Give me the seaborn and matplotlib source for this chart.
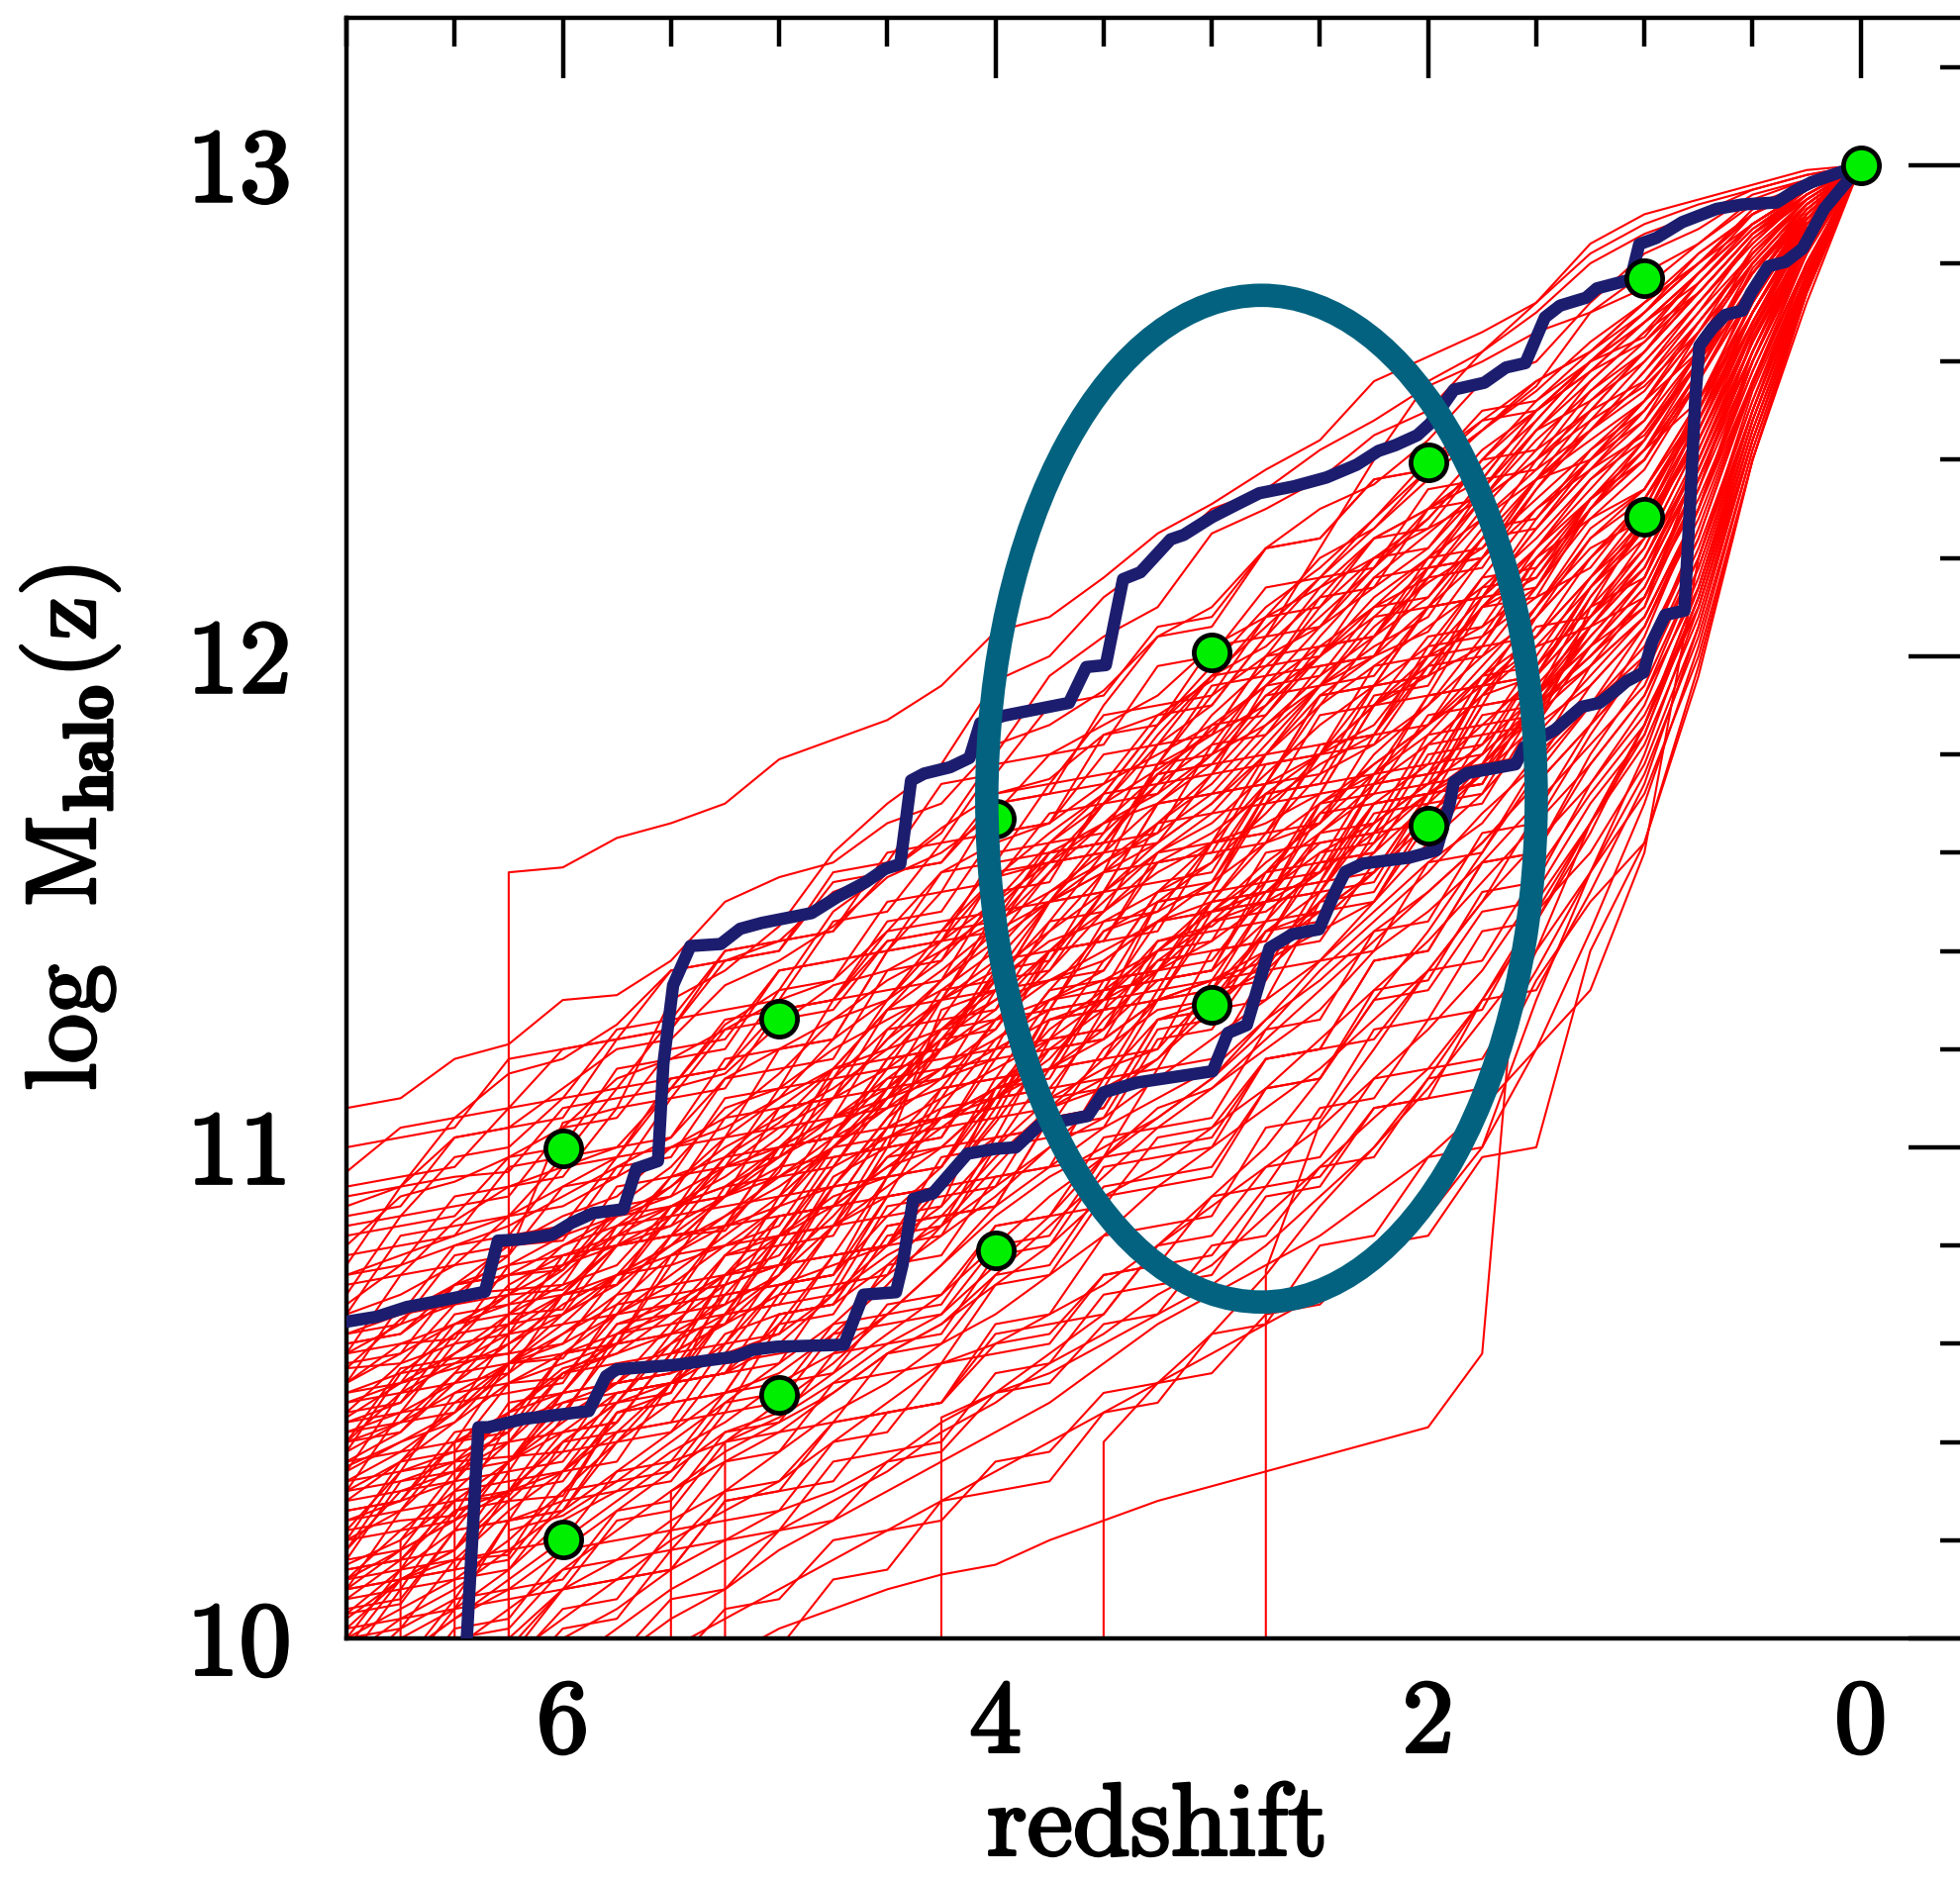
import numpy as np
import pandas as pd
import matplotlib
matplotlib.use("Agg")
import matplotlib.pyplot as plt
import matplotlib.patheffects as pe
import seaborn as sns
from matplotlib.patches import Ellipse
from matplotlib.ticker import MultipleLocator

nan = np.nan

# ---------------- data ----------------
redshift_grid = [7.0, 6.75, 6.5, 6.25, 6.0, 5.75, 5.5, 5.25, 5.0, 4.75, 4.5, 4.25, 4.0, 3.75,
                 3.5, 3.25, 3.0, 2.75, 2.5, 2.25, 2.0, 1.75, 1.5, 1.25, 1.0, 0.75, 0.5, 0.25, 0.0]

track_01 = [nan, nan, nan, 11.56, 11.57, 11.63, 11.66, 11.70, 11.79, 11.83, 11.87, 11.94, 12.05, 12.08, 12.16, 12.25, 12.31, 12.38, 12.44, 12.56, 12.61, 12.66, 12.72, 12.84, 12.90, 12.93, 12.96, 12.99, 13.00]
track_02 = [11.08, 11.10, 11.18, 11.21, 11.30, 11.31, 11.38, 11.50, 11.55, 11.58, 11.66, 11.70, 11.82, 11.86, 11.93, 12.04, 12.10, 12.22, 12.30, 12.35, 12.44, 12.56, 12.60, 12.72, 12.82, 12.87, 12.94, 12.97, 13.00]
track_03 = [10.95, 11.04, 11.06, 11.15, 11.18, 11.25, 11.36, 11.38, 11.42, 11.52, 11.56, 11.65, 11.72, 11.75, 11.84, 11.88, 11.95, 12.08, 12.20, 12.26, 12.38, 12.46, 12.55, 12.70, 12.78, 12.84, 12.92, 12.96, 13.00]
track_04 = [10.88, 10.92, 11.02, 11.04, 11.12, 11.20, 11.22, 11.33, 11.38, 11.45, 11.55, 11.60, 11.68, 11.80, 11.86, 11.92, 12.02, 12.08, 12.14, 12.24, 12.30, 12.42, 12.50, 12.60, 12.70, 12.82, 12.90, 12.95, 13.00]
track_05 = [10.80, 10.90, 10.93, 10.98, 11.04, 11.14, 11.18, 11.24, 11.30, 11.34, 11.44, 11.56, 11.62, 11.66, 11.74, 11.80, 11.86, 11.94, 12.02, 12.10, 12.16, 12.30, 12.42, 12.50, 12.62, 12.76, 12.88, 12.95, 13.00]
track_06 = [10.72, 10.74, 10.85, 10.92, 10.96, 11.00, 11.12, 11.15, 11.25, 11.33, 11.36, 11.42, 11.55, 11.58, 11.70, 11.77, 11.84, 11.90, 12.04, 12.16, 12.25, 12.34, 12.46, 12.56, 12.66, 12.74, 12.86, 12.94, 13.00]
track_07 = [10.66, 10.70, 10.76, 10.86, 10.92, 10.98, 11.12, 11.25, 11.32, 11.48, 11.56, 11.64, 11.80, 11.96, 12.04, 12.10, 12.25, 12.30, 12.36, 12.45, 12.50, 12.62, 12.70, 12.80, 12.86, 12.90, 12.95, 12.98, 13.00]
track_08 = [10.60, 10.62, 10.70, 10.78, 11.05, 11.08, 11.30, 11.36, 11.45, 11.60, 11.70, 11.78, 11.95, 12.00, 12.12, 12.20, 12.30, 12.34, 12.42, 12.48, 12.55, 12.60, 12.66, 12.70, 12.75, 12.84, 12.93, 12.97, 13.00]
track_09 = [10.68, 10.76, 10.80, 10.84, 10.90, 10.96, 11.02, 11.14, 11.20, 11.26, 11.34, 11.40, 11.48, 11.60, 11.66, 11.70, 11.80, 11.92, 12.00, 12.12, 12.20, 12.32, 12.40, 12.54, 12.62, 12.74, 12.86, 12.93, 13.00]
track_10 = [10.55, 10.65, 10.72, 10.80, 10.86, 10.90, 11.00, 11.06, 11.15, 11.26, 11.30, 11.38, 11.50, 11.62, 11.70, 11.82, 11.90, 12.04, 12.16, 12.28, 12.40, 12.48, 12.56, 12.62, 12.72, 12.80, 12.91, 12.96, 13.00]
track_11 = [10.50, 10.54, 10.62, 10.70, 10.80, 10.86, 10.92, 11.02, 11.10, 11.22, 11.30, 11.44, 11.55, 11.64, 11.72, 11.86, 11.96, 12.02, 12.12, 12.24, 12.30, 12.38, 12.48, 12.60, 12.65, 12.78, 12.88, 12.95, 13.00]
track_12 = [10.46, 10.56, 10.60, 10.72, 10.78, 10.82, 10.94, 10.98, 11.05, 11.16, 11.28, 11.36, 11.45, 11.56, 11.66, 11.76, 11.85, 11.94, 12.06, 12.14, 12.22, 12.34, 12.46, 12.52, 12.60, 12.72, 12.85, 12.93, 13.00]
track_13 = [10.52, 10.58, 10.64, 10.68, 10.75, 10.88, 10.96, 11.08, 11.12, 11.20, 11.26, 11.32, 11.40, 11.52, 11.60, 11.70, 11.78, 11.90, 12.00, 12.08, 12.18, 12.34, 12.48, 12.60, 12.70, 12.80, 12.90, 12.96, 13.00]
track_14 = [10.44, 10.48, 10.58, 10.66, 10.72, 10.76, 10.88, 10.92, 11.00, 11.10, 11.22, 11.30, 11.38, 11.50, 11.64, 11.74, 11.82, 11.96, 12.10, 12.20, 12.26, 12.32, 12.40, 12.48, 12.55, 12.66, 12.80, 12.92, 13.00]
track_15 = [10.40, 10.50, 10.56, 10.62, 10.70, 10.80, 10.86, 10.98, 11.08, 11.16, 11.28, 11.40, 11.46, 11.52, 11.58, 11.66, 11.74, 11.86, 11.96, 12.04, 12.12, 12.24, 12.36, 12.46, 12.58, 12.72, 12.84, 12.94, 13.00]
track_16 = [10.48, 10.52, 10.55, 10.60, 10.66, 10.72, 10.80, 10.90, 10.98, 11.06, 11.14, 11.22, 11.35, 11.50, 11.62, 11.74, 11.88, 11.98, 12.08, 12.18, 12.28, 12.40, 12.52, 12.60, 12.68, 12.76, 12.87, 12.94, 13.00]
track_17 = [10.38, 10.44, 10.54, 10.66, 10.76, 10.82, 10.88, 10.94, 11.02, 11.14, 11.24, 11.34, 11.42, 11.50, 11.56, 11.62, 11.70, 11.82, 11.94, 12.06, 12.15, 12.22, 12.32, 12.42, 12.50, 12.64, 12.82, 12.92, 13.00]
track_18 = [10.42, 10.46, 10.52, 10.60, 10.68, 10.74, 10.78, 10.84, 10.95, 11.14, 11.30, 11.42, 11.50, 11.58, 11.66, 11.72, 11.80, 11.86, 11.94, 12.00, 12.05, 12.20, 12.36, 12.50, 12.62, 12.74, 12.86, 12.94, 13.00]
track_19 = [10.35, 10.40, 10.46, 10.56, 10.64, 10.74, 10.86, 10.96, 11.04, 11.10, 11.16, 11.24, 11.32, 11.44, 11.56, 11.66, 11.76, 11.88, 12.00, 12.10, 12.20, 12.28, 12.36, 12.44, 12.52, 12.62, 12.78, 12.90, 13.00]
track_20 = [10.45, 10.52, 10.58, 10.64, 10.70, 10.74, 10.80, 10.86, 10.92, 11.00, 11.10, 11.20, 11.28, 11.40, 11.50, 11.60, 11.68, 11.80, 11.92, 12.00, 12.10, 12.20, 12.30, 12.38, 12.45, 12.60, 12.80, 12.92, 13.00]
track_21 = [10.36, 10.42, 10.52, 10.64, 10.74, 10.84, 10.92, 11.00, 11.06, 11.12, 11.20, 11.30, 11.36, 11.44, 11.52, 11.60, 11.66, 11.76, 11.86, 11.94, 12.02, 12.16, 12.30, 12.40, 12.48, 12.66, 12.83, 12.93, 13.00]
track_22 = [10.32, 10.38, 10.46, 10.54, 10.62, 10.70, 10.82, 10.90, 10.96, 11.10, 11.22, 11.34, 11.44, 11.50, 11.58, 11.64, 11.72, 11.84, 11.94, 12.02, 12.08, 12.24, 12.40, 12.50, 12.56, 12.70, 12.85, 12.94, 13.00]
track_23 = [10.40, 10.44, 10.50, 10.56, 10.60, 10.66, 10.74, 10.82, 10.90, 11.00, 11.12, 11.22, 11.30, 11.40, 11.48, 11.56, 11.62, 11.74, 11.90, 12.04, 12.16, 12.28, 12.38, 12.46, 12.54, 12.68, 12.81, 12.93, 13.00]
track_24 = [10.30, 10.36, 10.48, 10.56, 10.66, 10.74, 10.80, 10.90, 11.00, 11.06, 11.12, 11.20, 11.26, 11.36, 11.48, 11.58, 11.64, 11.72, 11.80, 11.90, 12.00, 12.12, 12.22, 12.32, 12.42, 12.56, 12.76, 12.90, 13.00]
track_25 = [10.34, 10.40, 10.44, 10.52, 10.58, 10.66, 10.72, 10.80, 10.88, 11.00, 11.10, 11.24, 11.34, 11.42, 11.46, 11.52, 11.58, 11.68, 11.80, 11.90, 11.98, 12.10, 12.20, 12.32, 12.40, 12.58, 12.79, 12.91, 13.00]
track_26 = [10.28, 10.36, 10.44, 10.56, 10.62, 10.68, 10.78, 10.86, 10.94, 11.02, 11.08, 11.16, 11.24, 11.38, 11.52, 11.62, 11.70, 11.80, 11.90, 11.98, 12.06, 12.14, 12.24, 12.36, 12.46, 12.60, 12.74, 12.89, 13.00]
track_27 = [10.26, 10.28, 10.40, 10.44, 10.58, 10.62, 10.70, 10.84, 10.88, 10.92, 11.06, 11.14, 11.18, 11.32, 11.44, 11.48, 11.54, 11.70, 11.78, 11.84, 11.98, 12.10, 12.16, 12.30, 12.42, 12.52, 12.70, 12.88, 13.00]
track_28 = [10.22, 10.34, 10.38, 10.52, 10.56, 10.60, 10.76, 10.80, 10.84, 11.00, 11.08, 11.12, 11.26, 11.30, 11.36, 11.52, 11.62, 11.66, 11.72, 11.90, 11.96, 12.02, 12.20, 12.28, 12.34, 12.50, 12.76, 12.90, 13.00]
track_29 = [10.30, 10.32, 10.36, 10.46, 10.50, 10.64, 10.68, 10.70, 10.82, 10.90, 10.94, 11.10, 11.16, 11.22, 11.38, 11.46, 11.50, 11.64, 11.76, 11.82, 11.90, 12.04, 12.12, 12.18, 12.32, 12.48, 12.68, 12.86, 13.00]
track_30 = [10.20, 10.26, 10.36, 10.42, 10.54, 10.58, 10.66, 10.78, 10.82, 10.96, 11.02, 11.08, 11.22, 11.28, 11.44, 11.50, 11.58, 11.74, 11.80, 11.86, 12.00, 12.06, 12.14, 12.32, 12.40, 12.56, 12.74, 12.89, 13.00]
track_31 = [10.18, 10.30, 10.34, 10.40, 10.50, 10.62, 10.66, 10.74, 10.78, 10.92, 11.04, 11.10, 11.26, 11.34, 11.38, 11.46, 11.48, 11.56, 11.68, 11.78, 11.86, 11.98, 12.10, 12.22, 12.28, 12.44, 12.68, 12.87, 13.00]
track_32 = [10.24, 10.28, 10.32, 10.44, 10.48, 10.52, 10.64, 10.72, 10.76, 10.86, 10.98, 11.06, 11.12, 11.24, 11.32, 11.40, 11.50, 11.62, 11.66, 11.80, 11.90, 12.00, 12.08, 12.24, 12.32, 12.48, 12.73, 12.88, 13.00]
track_33 = [10.15, 10.20, 10.34, 10.46, 10.55, 10.58, 10.62, 10.68, 10.74, 10.88, 10.96, 11.00, 11.10, 11.18, 11.30, 11.42, 11.45, 11.54, 11.70, 11.76, 11.84, 11.96, 12.04, 12.16, 12.26, 12.44, 12.66, 12.85, 13.00]
track_34 = [10.12, 10.22, 10.24, 10.36, 10.46, 10.48, 10.60, 10.70, 10.72, 10.74, 10.94, 11.06, 11.10, 11.12, 11.26, 11.36, 11.38, 11.52, 11.62, 11.64, 11.82, 11.92, 11.96, 12.14, 12.24, 12.46, 12.70, 12.87, 13.00]
track_35 = [10.20, 10.22, 10.30, 10.40, 10.42, 10.44, 10.58, 10.64, 10.70, 10.84, 10.86, 10.96, 11.10, 11.16, 11.18, 11.36, 11.46, 11.50, 11.64, 11.72, 11.74, 11.94, 12.02, 12.06, 12.20, 12.40, 12.64, 12.84, 13.00]
track_36 = [10.10, 10.18, 10.32, 10.34, 10.50, 10.52, 10.54, 10.66, 10.68, 10.84, 10.90, 10.92, 11.05, 11.20, 11.22, 11.30, 11.46, 11.48, 11.56, 11.70, 11.78, 11.80, 11.98, 12.10, 12.16, 12.42, 12.67, 12.86, 13.00]
track_37 = [10.16, 10.18, 10.24, 10.36, 10.42, 10.50, 10.52, 10.60, 10.72, 10.74, 10.86, 10.88, 11.12, 11.16, 11.24, 11.34, 11.36, 11.46, 11.58, 11.60, 11.76, 11.86, 11.96, 12.08, 12.18, 12.38, 12.62, 12.84, 13.00]
track_38 = [10.08, 10.16, 10.28, 10.30, 10.45, 10.52, 10.54, 10.58, 10.72, 10.76, 10.80, 10.94, 11.02, 11.04, 11.20, 11.28, 11.30, 11.44, 11.52, 11.66, 11.74, 11.76, 11.94, 12.06, 12.12, 12.36, 12.60, 12.82, 13.00]
track_39 = [10.14, 10.16, 10.26, 10.30, 10.40, 10.48, 10.52, 10.54, 10.64, 10.78, 10.80, 10.92, 11.06, 11.08, 11.18, 11.30, 11.34, 11.38, 11.50, 11.62, 11.72, 11.74, 11.92, 12.02, 12.10, 12.34, 12.65, 12.85, 13.00]
track_40 = [10.05, 10.14, 10.22, 10.36, 10.48, 10.50, 10.52, 10.58, 10.62, 10.70, 10.80, 10.88, 11.00, 11.10, 11.16, 11.20, 11.32, 11.44, 11.48, 11.56, 11.72, 11.78, 11.90, 12.00, 12.12, 12.32, 12.58, 12.82, 13.00]
track_41 = [10.10, 10.12, 10.18, 10.28, 10.38, 10.40, 10.48, 10.62, 10.66, 10.68, 10.76, 10.86, 10.98, 11.08, 11.14, 11.26, 11.30, 11.36, 11.46, 11.56, 11.68, 11.76, 11.90, 11.98, 12.08, 12.30, 12.62, 12.84, 13.00]
track_42 = [10.02, 10.12, 10.18, 10.30, 10.34, 10.42, 10.52, 10.54, 10.60, 10.70, 10.78, 10.84, 10.96, 11.08, 11.12, 11.18, 11.28, 11.38, 11.44, 11.50, 11.66, 11.76, 11.86, 11.94, 12.06, 12.28, 12.56, 12.80, 13.00]
track_43 = [10.00, 10.06, 10.12, 10.20, 10.30, 10.40, 10.52, 10.66, 10.80, 10.96, 11.10, 11.26, 11.42, 11.56, 11.70, 11.84, 11.96, 12.06, 12.16, 12.26, 12.36, 12.46, 12.54, 12.64, 12.72, 12.80, 12.88, 12.95, 13.00]
track_44 = [9.92, 10.02, 10.08, 10.24, 10.28, 10.46, 10.50, 10.72, 10.76, 10.94, 11.00, 11.28, 11.32, 11.50, 11.56, 11.78, 11.84, 12.00, 12.06, 12.18, 12.30, 12.36, 12.50, 12.58, 12.68, 12.78, 12.90, 12.96, 13.00]
track_45 = [10.62, 10.66, 10.72, 10.76, 10.82, 10.86, 10.90, 10.96, 11.00, 11.06, 11.10, 11.14, 11.20, 11.26, 11.30, 11.36, 11.42, 11.50, 11.56, 11.64, 11.72, 11.80, 11.90, 12.00, 12.10, 12.40, 12.66, 12.88, 13.00]
track_46 = [10.58, 10.64, 10.68, 10.74, 10.80, 10.84, 10.88, 10.92, 10.98, 11.04, 11.10, 11.16, 11.22, 11.30, 11.34, 11.40, 11.48, 11.52, 11.60, 11.66, 11.74, 11.82, 11.92, 12.02, 12.14, 12.36, 12.62, 12.86, 13.00]
track_47 = [10.52, 10.60, 10.64, 10.70, 10.76, 10.80, 10.84, 10.90, 10.94, 11.00, 11.02, 11.06, 11.12, 11.16, 11.22, 11.30, 11.34, 11.40, 11.48, 11.56, 11.66, 11.78, 11.88, 11.98, 12.08, 12.30, 12.60, 12.84, 13.00]
track_48 = [10.12, 10.18, 10.24, 10.30, 10.40, 10.48, 10.62, 10.78, 10.88, 11.02, 11.18, 11.30, 11.46, 11.62, 11.72, 11.86, 11.98, 12.10, 12.18, 12.28, 12.38, 12.46, 12.56, 12.62, 12.70, 12.80, 12.90, 12.96, 13.00]
track_49 = [10.04, 10.12, 10.16, 10.26, 10.34, 10.44, 10.58, 10.64, 10.74, 10.92, 11.06, 11.20, 11.34, 11.46, 11.60, 11.78, 11.92, 12.00, 12.14, 12.20, 12.28, 12.40, 12.50, 12.58, 12.64, 12.74, 12.86, 12.95, 13.00]
track_50 = [10.74, 10.78, 10.82, 10.86, 10.88, 10.94, 11.00, 11.04, 11.10, 11.16, 11.20, 11.24, 11.30, 11.34, 11.40, 11.46, 11.54, 11.62, 11.70, 11.78, 11.86, 11.94, 12.04, 12.16, 12.30, 12.52, 12.74, 12.90, 13.00]
track_51 = [9.96, 10.04, 10.10, 10.18, 10.26, 10.34, 10.42, 10.50, 10.54, 10.62, 10.72, 10.84, 10.92, 11.00, 11.06, 11.14, 11.22, 11.30, 11.38, 11.48, 11.58, 11.66, 11.80, 11.90, 12.02, 12.24, 12.55, 12.80, 13.00]
track_52 = [9.90, 10.00, 10.06, 10.14, 10.24, 10.30, 10.38, 10.44, 10.52, 10.58, 10.66, 10.76, 10.88, 10.96, 11.04, 11.10, 11.16, 11.26, 11.34, 11.44, 11.52, 11.62, 11.74, 11.86, 11.98, 12.20, 12.52, 12.78, 13.00]
track_53 = [9.84, 9.96, 10.04, 10.10, 10.18, 10.26, 10.34, 10.42, 10.46, 10.54, 10.62, 10.70, 10.80, 10.90, 10.98, 11.08, 11.12, 11.20, 11.28, 11.40, 11.48, 11.58, 11.70, 11.82, 11.94, 12.18, 12.50, 12.78, 13.00]
track_54 = [9.80, 9.90, 9.98, 10.06, 10.14, 10.22, 10.30, 10.38, 10.44, 10.50, 10.58, 10.64, 10.72, 10.80, 10.90, 10.96, 11.04, 11.12, 11.22, 11.32, 11.42, 11.54, 11.66, 11.78, 11.92, 12.14, 12.48, 12.76, 13.00]
track_55 = [9.75, 9.86, 9.92, 10.00, 10.10, 10.16, 10.24, 10.30, 10.38, 10.46, 10.52, 10.60, 10.66, 10.74, 10.82, 10.92, 11.00, 11.08, 11.16, 11.26, 11.36, 11.50, 11.62, 11.74, 11.88, 12.10, 12.46, 12.75, 13.00]
track_56 = [9.40, 9.48, 9.56, 9.64, 9.72, 9.80, 9.88, 9.96, 10.02, 10.06, 10.10, 10.13, 10.15, 10.20, 10.24, 10.28, 10.31, 10.34, 10.37, 10.40, 10.43, 10.58, 11.85, 12.10, 12.28, 12.50, 12.72, 12.90, 13.00]
track_57 = [nan] * 17 + [10.75, 11.05, 11.20, 11.36, 11.50, 11.68, 11.86, 12.04, 12.30, 12.60, 12.85, 13.00]
track_58 = [9.60, 9.70, 9.78, 9.86, 9.94, 10.02, 10.10, 10.16, 10.22, 10.28, 10.34, 10.42, 10.48, 10.56, 10.62, 10.70, 10.76, 10.86, 10.96, 11.06, 11.16, 11.30, 11.46, 11.64, 11.86, 12.10, 12.44, 12.74, 13.00]
track_59 = [9.70, 9.80, 9.88, 9.96, 10.04, 10.12, 10.20, 10.26, 10.32, 10.40, 10.48, 10.56, 10.60, 10.66, 10.72, 10.80, 10.88, 10.96, 11.04, 11.14, 11.24, 11.36, 11.52, 11.70, 11.84, 12.12, 12.46, 12.76, 13.00]
track_60 = [nan] * 6 + [10.30, 10.36, 10.42, 10.50, 10.58, 10.64, 10.74, 10.84, 10.94, 11.04, 11.12, 11.22, 11.32, 11.42, 11.52, 11.62, 11.74, 11.86, 11.98, 12.22, 12.52, 12.80, 13.00]
track_61 = [nan] * 11 + [10.45, 10.50, 10.58, 10.66, 10.80, 10.90, 11.00, 11.14, 11.30, 11.44, 11.60, 11.76, 11.90, 12.06, 12.30, 12.58, 12.82, 13.00]
track_62 = [nan, nan, 10.40, 10.46, 10.54, 10.60, 10.68, 10.74, 10.82, 10.88, 10.96, 11.04, 11.12, 11.22, 11.30, 11.40, 11.48, 11.58, 11.66, 11.76, 11.86, 11.96, 12.08, 12.20, 12.32, 12.50, 12.70, 12.88, 13.00]
track_63 = [nan, 10.20, 10.28, 10.36, 10.44, 10.52, 10.60, 10.66, 10.74, 10.84, 10.92, 11.00, 11.10, 11.20, 11.28, 11.38, 11.46, 11.56, 11.64, 11.74, 11.82, 11.92, 12.02, 12.14, 12.26, 12.46, 12.68, 12.86, 13.00]
track_64 = [nan, nan, nan, 10.22, 10.25, 10.32, 10.40, 10.48, 10.56, 10.64, 10.74, 10.82, 10.90, 11.00, 11.10, 11.18, 11.30, 11.40, 11.50, 11.60, 11.70, 11.80, 11.90, 12.00, 12.12, 12.34, 12.60, 12.84, 13.00]
track_65 = [9.65, 9.74, 9.84, 9.92, 10.00, 10.06, 10.14, 10.20, 10.26, 10.30, 10.36, 10.44, 10.50, 10.54, 10.60, 10.66, 10.72, 10.80, 10.90, 11.00, 11.12, 11.26, 11.40, 11.56, 11.72, 12.00, 12.40, 12.72, 13.00]
track_66 = [9.55, 9.64, 9.72, 9.80, 9.88, 9.96, 10.04, 10.10, 10.18, 10.24, 10.30, 10.36, 10.42, 10.48, 10.56, 10.64, 10.70, 10.76, 10.82, 10.90, 10.98, 11.08, 11.20, 11.32, 11.60, 12.20, 12.50, 12.80, 13.00]
track_67 = [9.88, 9.96, 10.04, 10.12, 10.20, 10.28, 10.36, 10.40, 10.48, 10.56, 10.66, 10.76, 10.86, 10.94, 11.00, 11.06, 11.14, 11.24, 11.36, 11.46, 11.56, 11.68, 11.78, 11.90, 12.00, 12.26, 12.56, 12.80, 13.00]
track_68 = [nan] * 7 + [10.40, 10.45, 10.52, 10.60, 10.66, 10.76, 10.86, 10.98, 11.06, 11.14, 11.26, 11.38, 11.50, 11.62, 11.72, 11.84, 11.96, 12.08, 12.30, 12.56, 12.82, 13.00]
track_69 = [nan] * 14 + [10.40, 10.52, 10.62, 10.74, 10.88, 11.00, 11.14, 11.30, 11.48, 11.66, 11.86, 12.14, 12.48, 12.78, 13.00]
track_70 = [9.50, 9.58, 9.66, 9.74, 9.82, 9.90, 9.98, 10.04, 10.10, 10.16, 10.22, 10.28, 10.34, 10.40, 10.46, 10.52, 10.58, 10.64, 10.70, 10.78, 10.86, 11.00, 11.30, 11.56, 11.80, 12.10, 12.46, 12.76, 13.00]
track_71 = [10.62, 10.64, 10.78, 10.80, 10.81, 10.96, 10.98, 11.14, 11.16, 11.18, 11.36, 11.38, 11.56, 11.58, 11.60, 11.78, 11.80, 11.96, 11.98, 12.00, 12.18, 12.20, 12.36, 12.40, 12.52, 12.66, 12.80, 12.92, 13.00]
track_72 = [10.40, 10.55, 10.57, 10.58, 10.70, 10.72, 10.86, 10.88, 10.90, 11.06, 11.08, 11.24, 11.26, 11.28, 11.46, 11.48, 11.62, 11.64, 11.66, 11.84, 11.86, 12.02, 12.04, 12.20, 12.30, 12.50, 12.72, 12.90, 13.00]
track_73 = [10.22, 10.24, 10.25, 10.44, 10.46, 10.60, 10.62, 10.64, 10.82, 10.84, 10.98, 11.00, 11.02, 11.22, 11.24, 11.38, 11.40, 11.42, 11.60, 11.62, 11.80, 11.82, 11.98, 12.10, 12.22, 12.44, 12.68, 12.88, 13.00]
track_74 = [10.55, 10.56, 10.68, 10.70, 10.71, 10.80, 10.82, 10.83, 10.96, 10.98, 11.00, 11.12, 11.14, 11.30, 11.32, 11.50, 11.52, 11.70, 11.72, 11.90, 11.92, 12.10, 12.22, 12.34, 12.46, 12.62, 12.78, 12.92, 13.00]
track_75 = [10.10, 10.26, 10.28, 10.29, 10.42, 10.44, 10.58, 10.60, 10.76, 10.78, 10.80, 10.98, 11.00, 11.16, 11.18, 11.20, 11.40, 11.42, 11.58, 11.60, 11.76, 11.78, 11.96, 12.08, 12.20, 12.40, 12.64, 12.86, 13.00]
track_76 = [10.48, 10.50, 10.64, 10.66, 10.67, 10.84, 10.86, 11.02, 11.04, 11.06, 11.24, 11.26, 11.28, 11.46, 11.48, 11.66, 11.68, 11.70, 11.88, 11.90, 12.04, 12.06, 12.22, 12.36, 12.44, 12.60, 12.76, 12.90, 13.00]
track_77 = [10.30, 10.46, 10.48, 10.50, 10.52, 10.68, 10.70, 10.72, 10.90, 10.92, 10.94, 11.12, 11.14, 11.16, 11.34, 11.36, 11.52, 11.54, 11.72, 11.74, 11.92, 11.94, 12.10, 12.26, 12.34, 12.52, 12.74, 12.90, 13.00]
track_78 = [10.05, 10.07, 10.22, 10.24, 10.40, 10.42, 10.44, 10.60, 10.62, 10.78, 10.80, 10.82, 11.00, 11.02, 11.04, 11.22, 11.24, 11.40, 11.42, 11.58, 11.60, 11.78, 11.80, 11.98, 12.12, 12.36, 12.62, 12.84, 13.00]
track_79 = [10.66, 10.82, 10.84, 10.86, 10.98, 11.00, 11.02, 11.18, 11.20, 11.22, 11.40, 11.42, 11.44, 11.60, 11.62, 11.64, 11.82, 11.84, 11.98, 12.00, 12.16, 12.18, 12.34, 12.46, 12.58, 12.70, 12.82, 12.93, 13.00]
track_80 = [10.36, 10.38, 10.40, 10.56, 10.58, 10.60, 10.78, 10.80, 10.82, 10.98, 11.00, 11.02, 11.20, 11.22, 11.24, 11.42, 11.44, 11.46, 11.64, 11.66, 11.84, 11.86, 11.88, 12.06, 12.18, 12.40, 12.66, 12.88, 13.00]
track_81 = [10.18, 10.34, 10.36, 10.37, 10.38, 10.54, 10.56, 10.74, 10.76, 10.78, 10.94, 10.96, 11.12, 11.14, 11.32, 11.34, 11.36, 11.54, 11.56, 11.74, 11.76, 11.94, 11.96, 12.14, 12.28, 12.48, 12.70, 12.89, 13.00]
track_82 = [10.58, 10.60, 10.61, 10.76, 10.78, 10.80, 10.94, 10.96, 11.12, 11.14, 11.16, 11.32, 11.34, 11.36, 11.52, 11.54, 11.56, 11.74, 11.76, 11.94, 11.96, 12.14, 12.16, 12.32, 12.42, 12.58, 12.76, 12.91, 13.00]
track_83 = [10.26, 10.28, 10.42, 10.44, 10.45, 10.62, 10.64, 10.66, 10.82, 10.84, 11.02, 11.04, 11.06, 11.26, 11.28, 11.30, 11.48, 11.50, 11.68, 11.70, 11.72, 11.92, 12.06, 12.08, 12.24, 12.46, 12.70, 12.88, 13.00]
track_84 = [10.00, 10.14, 10.16, 10.17, 10.34, 10.36, 10.52, 10.54, 10.56, 10.72, 10.74, 10.92, 10.94, 10.96, 11.14, 11.16, 11.34, 11.36, 11.54, 11.56, 11.72, 11.74, 11.92, 12.04, 12.16, 12.38, 12.64, 12.86, 13.00]
track_85 = [10.44, 10.46, 10.60, 10.62, 10.78, 10.80, 10.82, 10.96, 10.98, 11.16, 11.18, 11.20, 11.38, 11.40, 11.42, 11.60, 11.62, 11.80, 11.82, 11.84, 12.00, 12.02, 12.18, 12.30, 12.40, 12.58, 12.76, 12.91, 13.00]
track_86 = [10.14, 10.16, 10.18, 10.34, 10.36, 10.50, 10.52, 10.54, 10.70, 10.72, 10.90, 10.92, 11.10, 11.12, 11.14, 11.32, 11.34, 11.50, 11.52, 11.68, 11.70, 11.88, 11.90, 12.06, 12.20, 12.42, 12.66, 12.87, 13.00]
track_87 = [10.52, 10.68, 10.70, 10.71, 10.72, 10.88, 10.90, 11.06, 11.08, 11.10, 11.28, 11.30, 11.48, 11.50, 11.52, 11.70, 11.72, 11.74, 11.92, 11.94, 12.10, 12.12, 12.26, 12.38, 12.50, 12.64, 12.80, 12.92, 13.00]
track_88 = [10.32, 10.34, 10.50, 10.52, 10.53, 10.66, 10.68, 10.84, 10.86, 10.88, 11.04, 11.06, 11.08, 11.28, 11.30, 11.46, 11.48, 11.50, 11.70, 11.72, 11.88, 11.90, 12.08, 12.20, 12.32, 12.50, 12.72, 12.89, 13.00]
track_89 = [10.08, 10.10, 10.26, 10.28, 10.29, 10.46, 10.48, 10.50, 10.66, 10.68, 10.84, 10.86, 10.88, 11.06, 11.08, 11.26, 11.28, 11.46, 11.48, 11.50, 11.68, 11.70, 11.88, 12.02, 12.14, 12.36, 12.62, 12.85, 13.00]
track_90 = [10.60, 10.62, 10.72, 10.74, 10.75, 10.86, 10.88, 10.90, 11.00, 11.02, 11.14, 11.16, 11.18, 11.32, 11.34, 11.36, 11.50, 11.52, 11.54, 11.70, 11.72, 11.90, 11.92, 12.12, 12.26, 12.48, 12.70, 12.89, 13.00]
track_91 = [10.90, 10.92, 11.06, 11.08, 11.20, 11.22, 11.24, 11.40, 11.42, 11.44, 11.60, 11.62, 11.78, 11.80, 11.82, 11.98, 12.00, 12.14, 12.16, 12.18, 12.34, 12.36, 12.50, 12.60, 12.70, 12.80, 12.90, 12.96, 13.00]
track_92 = [10.82, 10.84, 10.86, 10.98, 11.00, 11.16, 11.18, 11.20, 11.36, 11.38, 11.40, 11.56, 11.58, 11.74, 11.76, 11.78, 11.94, 11.96, 12.12, 12.14, 12.30, 12.32, 12.46, 12.58, 12.68, 12.78, 12.88, 12.95, 13.00]
track_93 = [11.00, 11.02, 11.04, 11.18, 11.20, 11.22, 11.36, 11.38, 11.40, 11.54, 11.56, 11.58, 11.72, 11.74, 11.88, 11.90, 11.92, 12.08, 12.10, 12.24, 12.26, 12.40, 12.42, 12.56, 12.66, 12.78, 12.88, 12.95, 13.00]
track_94 = [10.76, 10.92, 10.94, 10.95, 11.08, 11.10, 11.12, 11.26, 11.28, 11.30, 11.42, 11.44, 11.46, 11.58, 11.60, 11.62, 11.76, 11.78, 11.80, 11.94, 11.96, 12.10, 12.12, 12.30, 12.44, 12.62, 12.78, 12.92, 13.00]
track_95 = [9.80, 9.82, 9.96, 9.98, 10.10, 10.12, 10.14, 10.28, 10.30, 10.32, 10.46, 10.48, 10.62, 10.64, 10.66, 10.80, 10.82, 10.96, 10.98, 11.14, 11.16, 11.18, 11.36, 11.56, 11.76, 12.04, 12.42, 12.74, 13.00]
track_96 = [9.70, 9.86, 9.88, 9.90, 10.02, 10.04, 10.18, 10.20, 10.22, 10.36, 10.38, 10.40, 10.54, 10.56, 10.70, 10.72, 10.74, 10.90, 10.92, 11.08, 11.10, 11.30, 11.32, 11.52, 11.74, 12.06, 12.44, 12.75, 13.00]
track_97 = [9.60, 9.62, 9.76, 9.78, 9.90, 9.92, 9.94, 10.06, 10.08, 10.20, 10.22, 10.24, 10.36, 10.38, 10.50, 10.52, 10.54, 10.66, 10.68, 10.80, 10.82, 10.98, 11.00, 11.40, 11.62, 11.96, 12.40, 12.74, 13.00]
track_98 = [9.90, 9.92, 10.06, 10.08, 10.10, 10.24, 10.26, 10.40, 10.42, 10.44, 10.58, 10.60, 10.74, 10.76, 10.92, 10.94, 10.96, 11.12, 11.14, 11.30, 11.32, 11.48, 11.50, 11.66, 11.84, 12.12, 12.48, 12.77, 13.00]
track_99 = [9.45, 9.60, 9.62, 9.64, 9.78, 9.80, 9.94, 9.96, 9.98, 10.12, 10.14, 10.28, 10.30, 10.32, 10.46, 10.48, 10.62, 10.64, 10.80, 10.82, 10.98, 11.00, 11.20, 11.44, 11.70, 12.02, 12.42, 12.74, 13.00]
track_100 = [9.95, 10.10, 10.12, 10.14, 10.28, 10.30, 10.32, 10.46, 10.48, 10.62, 10.64, 10.66, 10.80, 10.82, 10.98, 11.00, 11.02, 11.18, 11.20, 11.38, 11.40, 11.58, 11.60, 11.78, 11.92, 12.18, 12.50, 12.78, 13.00]
track_101 = [10.42, 10.44, 10.46, 10.62, 10.64, 10.66, 10.82, 10.84, 11.00, 11.02, 11.04, 11.22, 11.24, 11.40, 11.42, 11.44, 11.62, 11.64, 11.80, 11.82, 11.98, 12.00, 12.14, 12.28, 12.38, 12.56, 12.74, 12.90, 13.00]
track_102 = [10.20, 10.36, 10.38, 10.40, 10.54, 10.56, 10.58, 10.74, 10.76, 10.92, 10.94, 10.96, 11.14, 11.16, 11.32, 11.34, 11.36, 11.56, 11.58, 11.76, 11.78, 11.96, 11.98, 12.14, 12.26, 12.46, 12.68, 12.88, 13.00]
track_103 = [10.50, 10.52, 10.66, 10.68, 10.70, 10.82, 10.84, 10.98, 11.00, 11.02, 11.18, 11.20, 11.36, 11.38, 11.56, 11.58, 11.60, 11.78, 11.80, 11.98, 12.00, 12.16, 12.18, 12.32, 12.42, 12.60, 12.78, 12.91, 13.00]
track_104 = [10.28, 10.30, 10.32, 10.48, 10.50, 10.64, 10.66, 10.68, 10.86, 10.88, 10.90, 11.08, 11.10, 11.28, 11.30, 11.32, 11.50, 11.52, 11.54, 11.74, 11.76, 11.94, 11.96, 12.12, 12.26, 12.46, 12.70, 12.88, 13.00]
track_105 = [10.12, 10.14, 10.30, 10.32, 10.34, 10.48, 10.50, 10.66, 10.68, 10.70, 10.88, 10.90, 10.92, 11.10, 11.12, 11.30, 11.32, 11.34, 11.52, 11.54, 11.72, 11.74, 11.92, 12.06, 12.18, 12.40, 12.64, 12.86, 13.00]
track_106 = [10.38, 10.54, 10.56, 10.58, 10.60, 10.74, 10.76, 10.92, 10.94, 10.96, 11.12, 11.14, 11.32, 11.34, 11.36, 11.52, 11.54, 11.72, 11.74, 11.76, 11.92, 11.94, 12.10, 12.24, 12.34, 12.52, 12.72, 12.89, 13.00]
track_107 = [10.02, 10.04, 10.06, 10.24, 10.26, 10.42, 10.44, 10.46, 10.64, 10.66, 10.82, 10.84, 11.02, 11.04, 11.06, 11.24, 11.26, 11.44, 11.46, 11.64, 11.66, 11.84, 11.86, 12.02, 12.16, 12.38, 12.62, 12.85, 13.00]
track_108 = [10.46, 10.48, 10.62, 10.64, 10.66, 10.80, 10.82, 10.84, 11.00, 11.02, 11.16, 11.18, 11.20, 11.40, 11.42, 11.58, 11.60, 11.62, 11.82, 11.84, 12.02, 12.04, 12.20, 12.32, 12.44, 12.60, 12.78, 12.91, 13.00]
track_109 = [10.24, 10.26, 10.40, 10.42, 10.58, 10.60, 10.62, 10.78, 10.80, 10.82, 11.00, 11.02, 11.18, 11.20, 11.22, 11.40, 11.42, 11.60, 11.62, 11.64, 11.82, 11.84, 12.00, 12.16, 12.28, 12.48, 12.70, 12.88, 13.00]
track_110 = [10.16, 10.32, 10.34, 10.36, 10.50, 10.52, 10.54, 10.70, 10.72, 10.74, 10.90, 10.92, 11.08, 11.10, 11.28, 11.30, 11.32, 11.50, 11.52, 11.70, 11.72, 11.90, 11.92, 12.08, 12.22, 12.44, 12.66, 12.87, 13.00]
track_111 = [10.56, 10.58, 10.72, 10.74, 10.76, 10.92, 10.94, 11.10, 11.12, 11.30, 11.32, 11.34, 11.52, 11.54, 11.72, 11.74, 11.76, 11.94, 11.96, 12.10, 12.12, 12.26, 12.28, 12.42, 12.52, 12.66, 12.80, 12.92, 13.00]
track_112 = [10.34, 10.50, 10.52, 10.54, 10.70, 10.72, 10.88, 10.90, 11.08, 11.10, 11.12, 11.30, 11.32, 11.50, 11.52, 11.70, 11.72, 11.74, 11.92, 11.94, 12.10, 12.12, 12.26, 12.38, 12.48, 12.62, 12.78, 12.91, 13.00]
track_113 = [10.64, 10.66, 10.68, 10.82, 10.84, 10.98, 11.00, 11.02, 11.20, 11.22, 11.40, 11.42, 11.60, 11.62, 11.64, 11.82, 11.84, 12.00, 12.02, 12.04, 12.20, 12.22, 12.36, 12.46, 12.56, 12.68, 12.82, 12.93, 13.00]
track_114 = [10.40, 10.42, 10.54, 10.56, 10.57, 10.70, 10.72, 10.74, 10.86, 10.88, 11.04, 11.06, 11.08, 11.26, 11.28, 11.50, 11.52, 11.72, 11.74, 11.92, 11.94, 12.12, 12.14, 12.30, 12.40, 12.56, 12.76, 12.90, 13.00]
track_115 = [9.98, 10.12, 10.14, 10.16, 10.30, 10.32, 10.34, 10.48, 10.50, 10.64, 10.66, 10.68, 10.84, 10.86, 11.02, 11.04, 11.06, 11.24, 11.26, 11.44, 11.46, 11.64, 11.66, 11.84, 12.00, 12.24, 12.56, 12.80, 13.00]
track_116 = [9.86, 9.88, 10.02, 10.04, 10.18, 10.20, 10.22, 10.36, 10.38, 10.52, 10.54, 10.56, 10.72, 10.74, 10.90, 10.92, 10.94, 11.12, 11.14, 11.32, 11.34, 11.52, 11.54, 11.74, 11.90, 12.16, 12.50, 12.78, 13.00]
track_117 = [10.06, 10.08, 10.22, 10.24, 10.26, 10.40, 10.42, 10.56, 10.58, 10.60, 10.76, 10.78, 10.94, 10.96, 10.98, 11.16, 11.18, 11.36, 11.38, 11.40, 11.58, 11.60, 11.78, 11.94, 12.06, 12.30, 12.60, 12.83, 13.00]
track_118 = [9.78, 9.92, 9.94, 9.96, 10.10, 10.12, 10.14, 10.28, 10.30, 10.44, 10.46, 10.48, 10.64, 10.66, 10.82, 10.84, 10.86, 11.04, 11.06, 11.24, 11.26, 11.44, 11.46, 11.66, 11.86, 12.12, 12.48, 12.77, 13.00]
track_119 = [10.10, 10.12, 10.14, 10.30, 10.32, 10.46, 10.48, 10.50, 10.66, 10.68, 10.84, 10.86, 10.88, 11.06, 11.08, 11.26, 11.28, 11.30, 11.50, 11.52, 11.70, 11.72, 11.90, 12.04, 12.16, 12.38, 12.64, 12.86, 13.00]
track_120 = [9.92, 9.94, 10.08, 10.10, 10.12, 10.26, 10.28, 10.42, 10.44, 10.58, 10.60, 10.62, 10.78, 10.80, 10.96, 10.98, 11.00, 11.18, 11.20, 11.38, 11.40, 11.58, 11.60, 11.80, 11.96, 12.20, 12.54, 12.79, 13.00]
track_121 = [10.84, 10.86, 10.98, 11.00, 11.10, 11.12, 11.26, 11.28, 11.30, 11.46, 11.48, 11.62, 11.64, 11.66, 11.80, 11.82, 11.96, 11.98, 12.00, 12.16, 12.18, 12.32, 12.44, 12.54, 12.64, 12.76, 12.87, 12.95, 13.00]
track_122 = [10.78, 10.80, 10.82, 10.96, 10.98, 11.12, 11.14, 11.16, 11.28, 11.30, 11.44, 11.46, 11.48, 11.60, 11.62, 11.76, 11.78, 11.92, 11.94, 12.08, 12.10, 12.24, 12.26, 12.40, 12.52, 12.68, 12.82, 12.93, 13.00]
track_123 = [10.70, 10.86, 10.88, 10.90, 11.04, 11.06, 11.20, 11.22, 11.36, 11.38, 11.40, 11.52, 11.54, 11.68, 11.70, 11.72, 11.86, 11.88, 12.02, 12.04, 12.18, 12.20, 12.34, 12.48, 12.60, 12.72, 12.84, 12.94, 13.00]
track_124 = [10.92, 10.94, 10.96, 11.08, 11.10, 11.24, 11.26, 11.40, 11.42, 11.44, 11.56, 11.58, 11.70, 11.72, 11.74, 11.88, 11.90, 12.04, 12.06, 12.20, 12.22, 12.36, 12.38, 12.52, 12.62, 12.74, 12.86, 12.95, 13.00]
track_125 = [10.74, 10.76, 10.90, 10.92, 10.94, 11.08, 11.10, 11.24, 11.26, 11.28, 11.42, 11.44, 11.58, 11.60, 11.62, 11.76, 11.78, 11.80, 11.94, 11.96, 12.10, 12.12, 12.28, 12.40, 12.50, 12.64, 12.80, 12.92, 13.00]
track_126 = [10.86, 10.88, 11.02, 11.04, 11.06, 11.22, 11.24, 11.38, 11.40, 11.56, 11.58, 11.74, 11.76, 11.90, 11.92, 12.06, 12.08, 12.22, 12.24, 12.36, 12.38, 12.50, 12.52, 12.62, 12.72, 12.82, 12.90, 12.96, 13.00]
track_127 = [10.64, 10.66, 10.80, 10.82, 10.96, 10.98, 11.14, 11.16, 11.32, 11.34, 11.50, 11.52, 11.70, 11.72, 11.90, 12.04, 12.06, 12.22, 12.24, 12.36, 12.38, 12.48, 12.50, 12.60, 12.68, 12.78, 12.88, 12.95, 13.00]
track_128 = [10.58, 10.74, 10.76, 10.78, 10.92, 10.94, 11.10, 11.12, 11.28, 11.30, 11.46, 11.48, 11.64, 11.66, 11.84, 11.86, 12.02, 12.04, 12.22, 12.40, 12.56, 12.62, 12.72, 12.82, 12.88, 12.92, 12.95, 12.98, 13.00]
track_129 = [9.85, 9.87, 10.00, 10.02, 10.14, 10.16, 10.18, 10.30, 10.32, 10.44, 10.46, 10.48, 10.60, 10.62, 10.74, 10.76, 10.78, 10.92, 10.94, 11.08, 11.10, 11.12, 11.34, 11.50, 11.62, 11.98, 12.40, 12.74, 13.00]
track_130 = [9.65, 9.67, 9.80, 9.82, 9.94, 9.96, 10.08, 10.10, 10.22, 10.24, 10.36, 10.38, 10.50, 10.52, 10.64, 10.66, 10.80, 10.82, 10.96, 10.98, 11.14, 11.16, 11.40, 11.66, 11.82, 12.08, 12.44, 12.75, 13.00]
track_131 = [10.00, 10.02, 10.16, 10.18, 10.20, 10.34, 10.36, 10.50, 10.52, 10.54, 10.68, 10.70, 10.84, 10.86, 10.88, 11.02, 11.04, 11.18, 11.20, 11.22, 11.36, 11.38, 11.56, 11.72, 11.86, 12.14, 12.50, 12.78, 13.00]
track_132 = [9.75, 9.90, 9.92, 9.94, 10.06, 10.08, 10.22, 10.24, 10.26, 10.40, 10.42, 10.56, 10.58, 10.60, 10.74, 10.76, 10.90, 10.92, 11.08, 11.10, 11.26, 11.28, 11.48, 11.60, 11.78, 12.06, 12.44, 12.75, 13.00]

upper_navy_z = [7.00, 6.86, 6.72, 6.54, 6.36, 6.30, 6.21, 6.05, 5.96, 5.86, 5.72, 5.66, 5.56, 5.535,
                5.49, 5.41, 5.27, 5.18, 5.08, 4.85, 4.73, 4.60, 4.51, 4.44, 4.39, 4.33, 4.21, 4.12,
                4.07, 3.96, 3.66, 3.58, 3.49, 3.41, 3.33, 3.19, 3.13, 3.00, 2.88, 2.78, 2.62, 2.47,
                2.33, 2.23, 2.15, 2.05, 1.99, 1.88, 1.74, 1.64, 1.55, 1.46, 1.39, 1.27, 1.22, 1.064,
                1.024, 0.944, 0.825, 0.666, 0.547, 0.388, 0.308, 0.229, 0.0]
upper_navy_m = [10.645, 10.655, 10.675, 10.690, 10.706, 10.810, 10.812, 10.822, 10.846, 10.866, 10.874,
                10.957, 10.972, 11.17, 11.33, 11.41, 11.414, 11.445, 11.457, 11.477, 11.51, 11.54,
                11.567, 11.577, 11.747, 11.761, 11.774, 11.793, 11.864, 11.879, 11.905, 11.978, 11.982,
                12.157, 12.171, 12.238, 12.247, 12.283, 12.31, 12.332, 12.346, 12.364, 12.39, 12.418,
                12.43, 12.45, 12.474, 12.543, 12.557, 12.588, 12.597, 12.69, 12.714, 12.73, 12.749,
                12.767, 12.839, 12.852, 12.884, 12.911, 12.920, 12.924, 12.947, 12.965, 13.0]

lower_navy_z = [6.45, 6.39, 6.345, 6.18, 5.88, 5.80, 5.75, 5.48, 5.20, 5.12, 5.01, 4.70, 4.61, 4.46,
                4.43, 4.38, 4.29, 4.13, 4.00, 3.906, 3.80, 3.573, 3.50, 3.345, 2.996, 2.925, 2.838,
                2.733, 2.627, 2.504, 2.43, 2.383, 2.30, 2.086, 1.962, 1.90, 1.881, 1.82, 1.596, 1.555,
                1.414, 1.29, 1.208, 1.125, 1.083, 1.004, 0.964, 0.904, 0.815, 0.785, 0.765, 0.746,
                0.686, 0.626, 0.547, 0.507, 0.428, 0.348, 0.269, 0.169, 0.0]
lower_navy_m = [9.95, 10.43, 10.430, 10.447, 10.463, 10.534, 10.548, 10.557, 10.574, 10.588, 10.594,
                10.598, 10.70, 10.705, 10.76, 10.895, 10.906, 10.987, 10.997, 11.0, 11.044, 11.064,
                11.112, 11.132, 11.155, 11.233, 11.249, 11.406, 11.434, 11.444, 11.52, 11.561, 11.578,
                11.59, 11.605, 11.70, 11.744, 11.762, 11.78, 11.815, 11.85, 11.897, 11.905, 11.933,
                11.949, 11.967, 12.03, 12.084, 12.093, 12.344, 12.524, 12.632, 12.668, 12.695, 12.704,
                12.740, 12.794, 12.803, 12.830, 12.911, 13.0]

green_z = [0, 1, 1, 2, 2, 3, 3, 4, 4, 5, 5, 6, 6]
green_m = [13.0, 12.77, 12.285, 12.394, 11.656, 12.008, 11.29, 11.669, 10.791, 11.262, 10.496, 10.997, 10.201]

x_tick_values = [0, 2, 4, 6]
x_tick_labels = ["0", "2", "4", "6"]
y_tick_values = [10, 11, 12, 13]
y_tick_labels = ["10", "11", "12", "13"]
x_label = "redshift"
y_label = r"$\mathrm{log\ \ M_{\mathbf{halo}}(z)}$"

# annotation ellipse (centre / size in data units)
ellipse_center = (2.77, 11.71)
ellipse_width = 2.54
ellipse_height = 2.05

# ---------------- style ----------------
RED = "#ff0000"
NAVY = "#1d1d6f"
GREEN = "#00ee00"
TEAL = "#03627f"
ENTRY_FLOOR = 9.0   # tracks that begin inside the window rise from below the frame

sns.set_style("white")
plt.rcParams["font.family"] = "cmr10"
plt.rcParams["mathtext.fontset"] = "cm"
plt.rcParams["axes.formatter.use_mathtext"] = True
plt.rcParams["text.color"] = "black"
plt.rcParams["axes.labelcolor"] = "black"
plt.rcParams["xtick.color"] = "black"
plt.rcParams["ytick.color"] = "black"

tracks = [globals()[f"track_{i:02d}"] if i < 100 else globals()[f"track_{i}"] for i in range(1, 133)]

zg = np.array(redshift_grid)
rows = []
for k, tr in enumerate(tracks):
    assert len(tr) == len(zg), f"track {k+1} has {len(tr)} values"
    v = np.array(tr, dtype=float)
    ok = ~np.isnan(v)
    zs, ms = list(zg[ok]), list(v[ok])
    if not ok[0]:
        zs = [zs[0]] + zs
        ms = [ENTRY_FLOOR] + ms
    for i, (a, b) in enumerate(zip(zs, ms)):
        rows.append((k, i, a, b))
df = pd.DataFrame(rows, columns=["track", "step", "z", "logM"])

assert len(upper_navy_z) == len(upper_navy_m)
assert len(lower_navy_z) == len(lower_navy_m)

fig = plt.figure(figsize=(19.81, 18.97), dpi=100)
ax = fig.add_axes([350 / 1981, (1897 - 1655) / 1897, 1639 / 1981, 1637 / 1897])

sns.lineplot(data=df, x="z", y="logM", units="track", estimator=None, sort=False,
             color=RED, lw=1.5, ax=ax, legend=False, zorder=2)
sns.lineplot(x=upper_navy_z, y=upper_navy_m, estimator=None, sort=False, color=NAVY,
             lw=9, ax=ax, zorder=4)
sns.lineplot(x=lower_navy_z, y=lower_navy_m, estimator=None, sort=False, color=NAVY,
             lw=9, ax=ax, zorder=4)
sns.scatterplot(x=green_z, y=green_m, s=680, color=GREEN, edgecolor="black",
                linewidth=3.4, ax=ax, zorder=6, clip_on=False)

ax.add_patch(Ellipse(ellipse_center, ellipse_width, ellipse_height, fill=False,
                     edgecolor=TEAL, lw=17, zorder=10))

ax.set_xlim(7.0, -0.5)
ax.set_ylim(10.0, 13.3)
ax.set_xticks(x_tick_values)
ax.set_xticklabels(x_tick_labels)
ax.set_yticks(y_tick_values)
ax.set_yticklabels(y_tick_labels)
ax.xaxis.set_minor_locator(MultipleLocator(0.5))
ax.yaxis.set_minor_locator(MultipleLocator(0.2))
ax.tick_params(which="both", direction="in", top=True, right=True, width=3.2, color="black")
ax.tick_params(which="major", length=44, labelsize=76, labelcolor="black")
ax.tick_params(which="minor", length=21)
ax.tick_params(axis="x", which="major", pad=30)
ax.tick_params(axis="y", which="major", pad=40)
for sp in ax.spines.values():
    sp.set_linewidth(3.2)
    sp.set_color("black")

ax.set_xlabel(x_label, fontsize=75, color="black")
ax.set_ylabel(y_label, fontsize=72, color="black")
ax.xaxis.set_label_coords(0.5, -0.089)
ax.yaxis.set_label_coords(-0.1385, 0.5)

heavy = [pe.withStroke(linewidth=2.2, foreground="black")]
for lbl in ax.get_xticklabels() + ax.get_yticklabels():
    lbl.set_path_effects(heavy)
ax.xaxis.label.set_path_effects(heavy)
ax.yaxis.label.set_path_effects(heavy)

fig.savefig("out.png", dpi=100, facecolor="white")
